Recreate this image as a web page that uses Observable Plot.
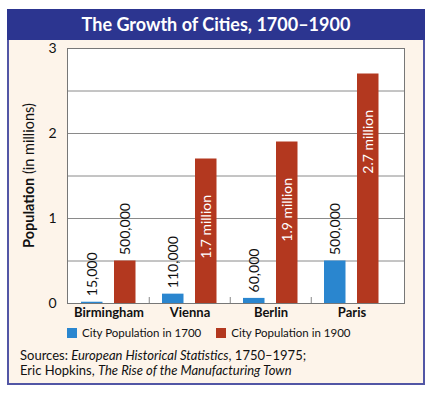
<!DOCTYPE html>
<html><head><meta charset="utf-8">
<script src="https://cdn.jsdelivr.net/npm/d3@7"></script>
<script src="https://cdn.jsdelivr.net/npm/@observablehq/plot@0.6"></script>
<style>
body{margin:0;background:#fff;font-family:Lato,"Open Sans",sans-serif;}
#page{position:relative;width:430px;height:393px;overflow:hidden;background:#fff;}
#box{position:absolute;left:7px;top:9px;width:418px;height:376px;box-sizing:border-box;border:2px solid #5256a5;background:#fdf4ea;}
#title{position:absolute;left:7px;top:9px;width:418px;height:31px;background:#2c3590;color:#fff;font-weight:bold;font-size:18px;text-align:center;line-height:31px;}
#chart{position:absolute;left:0;top:40px;}
#legend{position:absolute;left:67px;top:326px;font-size:11.5px;color:#111;display:flex;align-items:center;white-space:nowrap;}
#legend .sw{display:inline-block;width:10px;height:10px;margin-right:5px;}
#legend .item{display:flex;align-items:center;margin-right:15px;}
#sources{position:absolute;left:20px;top:348px;font-size:13px;line-height:15px;color:#111;}
</style></head>
<body>
<div id="page">
  <div id="box"></div>
  <div id="title">The Growth of Cities, 1700–1900</div>
  <div id="chart"></div>
  <div id="legend"></div>
  <div id="sources">Sources: <i>European Historical Statistics</i>, 1750–1975;<br>Eric Hopkins, <i>The Rise of the Manufacturing Town</i></div>
</div>
<script>
const cities = ["Birmingham", "Vienna", "Berlin", "Paris"];
const pop1700 = [0.015, 0.11, 0.06, 0.5];
const pop1900 = [0.5, 1.7, 1.9, 2.7];
const labels1700 = ["15,000", "110,000", "60,000", "500,000"];
const labels1900 = ["500,000", "1.7 million", "1.9 million", "2.7 million"];
const yTicks = [0, 1, 2, 3];
const gridValues = [0.5, 1, 1.5, 2, 2.5];
const seriesNames = ["City Population in 1700", "City Population in 1900"];
const colors = ["#2a86cf", "#b3381f"];

const rows1700 = cities.map((c, i) => ({city: c, value: pop1700[i], label: labels1700[i]}));
const rows1900 = cities.map((c, i) => ({city: c, value: pop1900[i], label: labels1900[i]}));

const chart = Plot.plot({
  width: 430,
  height: 285,
  marginLeft: 67,
  marginRight: 26,
  marginTop: 8,
  marginBottom: 22,
  style: {background: "transparent", fontFamily: "Lato, 'Open Sans', sans-serif", color: "#111", overflow: "visible"},
  x: {type: "band", domain: cities, range: [67, 393], padding: 0, label: null},
  y: {domain: [0, 3], label: null},
  marks: [
    Plot.frame({fill: "white", stroke: null}),
    Plot.ruleY(gridValues, {stroke: "#8a8a8a", strokeWidth: 1}),
    Plot.ruleX(cities.slice(1), {dx: -40.75, insetTop: 249, stroke: "#888", strokeWidth: 1}),
    Plot.barY(rows1700, {x: "city", y: "value", fill: colors[0], insetLeft: 13, insetRight: 46.5}),
    Plot.barY(rows1900, {x: "city", y: "value", fill: colors[1], insetLeft: 46, insetRight: 13.5}),
    Plot.frame({stroke: "#777", strokeWidth: 1}),
    Plot.axisY(yTicks, {tickSize: 0, tickPadding: 11, fontSize: 14, tickFormat: d3.format("d"), label: null}),
    Plot.axisX({tickSize: 0, tickPadding: 4, fontSize: 13, fontWeight: "bold", label: null}),
    Plot.text(rows1700, {x: "city", y: "value", text: "label", rotate: -90, textAnchor: "start", dx: -16.75, dy: -6, fontSize: 14, fill: "#111"}),
    Plot.text(rows1900.filter(d => d.value < 1), {x: "city", y: "value", text: "label", rotate: -90, textAnchor: "start", dx: 16.25, dy: -6, fontSize: 14, fill: "#111"}),
    Plot.text(rows1900.filter(d => d.value >= 1), {x: "city", y: "value", text: "label", rotate: -90, textAnchor: "end", dx: 16.25, dy: 36, fontSize: 14, fill: "white"})
  ]
});
document.getElementById("chart").appendChild(chart);

// Y axis title with mixed weights
const svg = d3.select(chart);
const yl = svg.append("text")
  .attr("transform", "translate(30,135.5) rotate(-90)")
  .attr("text-anchor", "middle")
  .attr("dominant-baseline", "middle")
  .attr("font-size", 14.5)
  .attr("fill", "#111");
yl.append("tspan").attr("font-weight", "bold").text("Population");
yl.append("tspan").text(" (in millions)");

// Legend
const legend = d3.select("#legend");
seriesNames.forEach((name, i) => {
  const item = legend.append("div").attr("class", "item");
  item.append("span").attr("class", "sw").style("background", colors[i]);
  item.append("span").text(name);
});
</script>
</body></html>
